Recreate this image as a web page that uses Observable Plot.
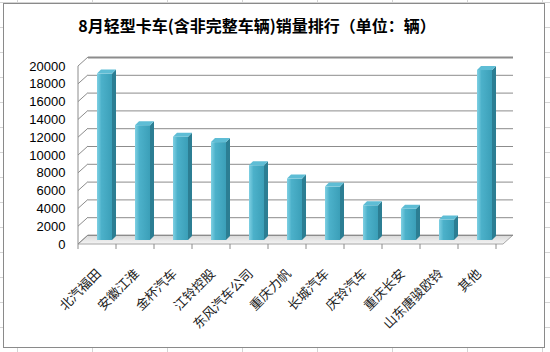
<!DOCTYPE html>
<html>
<head>
<meta charset="utf-8">
<script src="https://cdn.jsdelivr.net/npm/d3@7"></script>
<script src="https://cdn.jsdelivr.net/npm/@observablehq/plot@0.6"></script>
<style>
  html, body { margin: 0; padding: 0; }
  body {
    width: 550px; height: 352px; position: relative; overflow: hidden;
    background-color: #fff;
    background-image:
      repeating-linear-gradient(to right, transparent 0 17px, #d4d4d4 17px 18px, transparent 18px 75px),
      repeating-linear-gradient(to bottom, transparent 0 2px, #d4d4d4 2px 3px, transparent 3px 25px);
  }
  #frame {
    position: absolute; left: 3px; top: 3px; width: 540px; height: 343px;
    border: 1px solid #8a8a8a; background: #fff;
  }
  #title {
    position: absolute; left: 0; top: 13px; width: 514px; text-align: center;
    font-family: "Noto Sans CJK SC", sans-serif; font-weight: bold; font-size: 16px; color: #000;
  }
  #chart { position: absolute; left: 0; top: 0; }
</style>
</head>
<body>
<div id="frame"></div>
<div id="chart"></div>
<div id="title">8月轻型卡车(含非完整车辆)销量排行（单位：辆）</div>
<script>
const categories = ["北汽福田", "安徽江淮", "金杯汽车", "江铃控股", "东风汽车公司", "重庆力帆", "长城汽车", "庆铃汽车", "重庆长安", "山东唐骏欧铃", "其他"];
const values = [18700, 12900, 11600, 11000, 8400, 6900, 6000, 3900, 3500, 2300, 19100];
const yTicks = [0, 2000, 4000, 6000, 8000, 10000, 12000, 14000, 16000, 18000, 20000];

const data = categories.map((c, i) => ({name: c, value: values[i]}));

const depthX = 10, depthY = -9;   // back wall offset
const barDX = 4, barDY = -4;      // bar front-face offset
const bd = 4;                      // bar depth

const plot = Plot.plot({
  width: 550, height: 352,
  marginLeft: 78, marginRight: 47, marginTop: 66, marginBottom: 108,
  style: {background: "transparent", color: "#000", fontFamily: "'Liberation Sans', Arial, sans-serif"},
  x: {domain: categories, paddingInner: 0.61, paddingOuter: 0.305, label: null},
  y: {domain: [0, 20000], label: null},
  marks: [
    Plot.ruleY(yTicks, {dx: depthX, dy: depthY, stroke: "#8c8c8c", strokeWidth: d => d === 20000 ? 2 : 1}),
    Plot.barY(data, {x: "name", y: "value", dx: barDX, dy: barDY, fill: "url(#barGrad)"}),
    Plot.axisY({ticks: yTicks, tickSize: 0, tickPadding: 13, tickFormat: d => String(d), fontSize: 13}),
    Plot.axisX({tickSize: 0, tickRotate: -45, tickPadding: 24, dx: -2, dy: 3, fontSize: 13, fill: "#222", fontFamily: "'Noto Sans CJK SC', sans-serif"})
  ]
});
document.getElementById("chart").appendChild(plot);

const svg = d3.select(plot);
const xs = plot.scale("x"), ys = plot.scale("y");
const bw = xs.bandwidth, step = xs.step;
const [xr0, xr1] = xs.range;
const y0 = ys.apply(0), yTop = ys.apply(20000);

const defs = svg.insert("defs", ":first-child");
const g1 = defs.append("linearGradient").attr("id", "barGrad").attr("x1", 0).attr("x2", 1).attr("y1", 0).attr("y2", 0);
g1.append("stop").attr("offset", 0).attr("stop-color", "#7fd0e3");
g1.append("stop").attr("offset", 0.3).attr("stop-color", "#4cb1ca");
g1.append("stop").attr("offset", 1).attr("stop-color", "#3b9fb8");
const g2 = defs.append("linearGradient").attr("id", "floorGrad").attr("x1", 0).attr("x2", 0).attr("y1", 0).attr("y2", 1);
g2.append("stop").attr("offset", 0).attr("stop-color", "#d8d8d8");
g2.append("stop").attr("offset", 1).attr("stop-color", "#f4f4f4");

// decorations under the marks (floor, side wall, front axes)
const under = svg.insert("g", "defs + *");
under.append("polygon")
  .attr("points", [[xr0, y0], [xr1, y0], [xr1 + depthX, y0 + depthY], [xr0 + depthX, y0 + depthY]].map(p => p.join(",")).join(" "))
  .attr("fill", "url(#floorGrad)").attr("stroke", "#a6a6a6");
yTicks.forEach(t => {
  const y = ys.apply(t);
  under.append("line").attr("x1", xr0).attr("y1", y).attr("x2", xr0 + depthX).attr("y2", y + depthY)
    .attr("stroke", "#8c8c8c");
});
under.append("line").attr("x1", xr0).attr("x2", xr0).attr("y1", y0).attr("y2", yTop).attr("stroke", "#8c8c8c");
for (let k = 0; k <= categories.length; k++) {
  const x = xr0 + k * step;
  under.append("line").attr("x1", x).attr("x2", x).attr("y1", y0).attr("y2", y0 + 5).attr("stroke", "#8c8c8c");
}

// 3D faces of the bars
const faces = svg.append("g");
data.forEach(d => {
  const xl = xs.apply(d.name) + barDX, xr = xl + bw;
  const yt = ys.apply(d.value) + barDY, yb = y0 + barDY;
  faces.append("polygon")
    .attr("points", [[xr, yt], [xr + bd, yt - bd], [xr + bd, yb - bd], [xr, yb]].map(p => p.join(",")).join(" "))
    .attr("fill", "#2c7e93");
  faces.append("polygon")
    .attr("points", [[xl, yt], [xl + bd, yt - bd], [xr + bd, yt - bd], [xr, yt]].map(p => p.join(",")).join(" "))
    .attr("fill", "#5ebdd5");
});
</script>
</body>
</html>
